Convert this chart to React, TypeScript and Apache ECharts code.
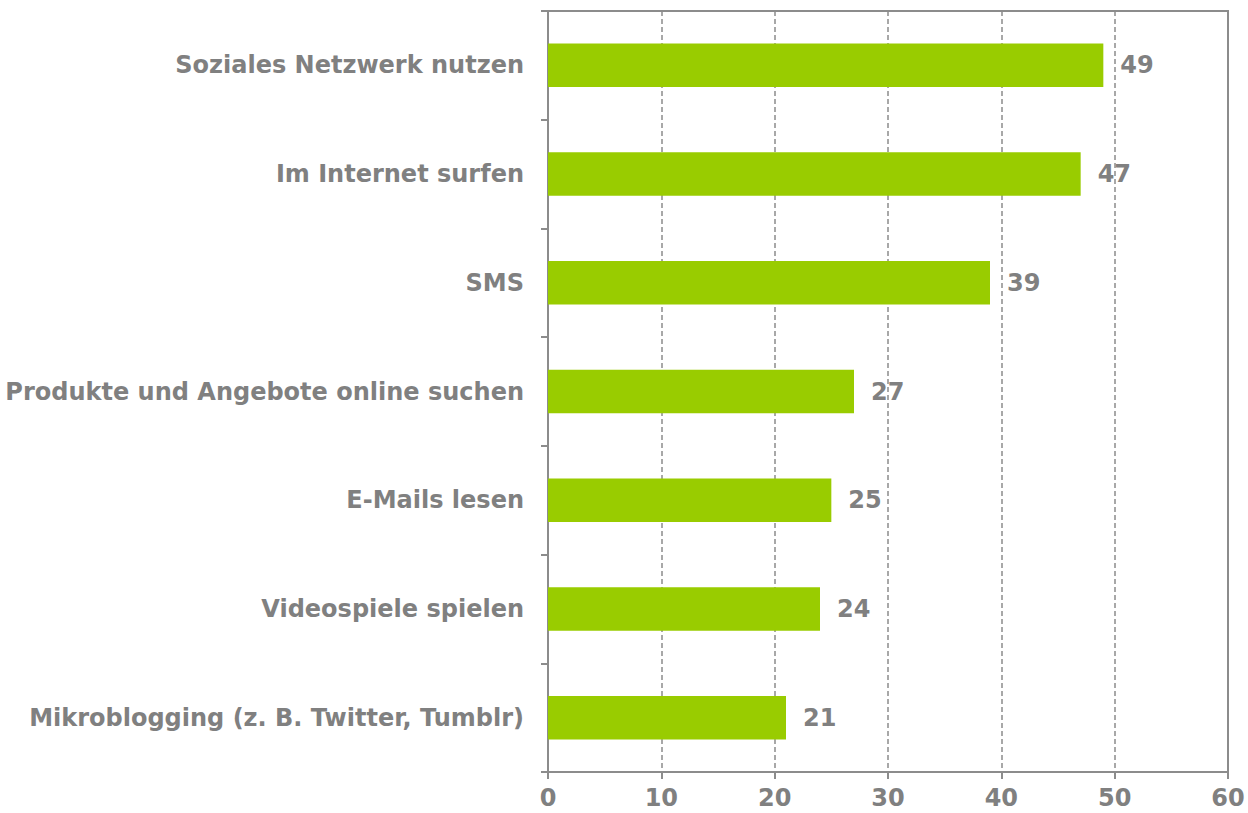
import React, { useEffect, useRef } from "react";
import * as echarts from "echarts";

const categories = [
  "Soziales Netzwerk nutzen",
  "Im Internet surfen",
  "SMS",
  "Produkte und Angebote online suchen",
  "E-Mails lesen",
  "Videospiele spielen",
  "Mikroblogging (z. B. Twitter, Tumblr)",
];
const values = [49, 47, 39, 27, 25, 24, 21];
const xTicks = [0, 10, 20, 30, 40, 50, 60];

const GRAY = "#808080";
const FONT = "DejaVu Sans";

export default function App() {
  const ref = useRef<HTMLDivElement>(null);
  useEffect(() => {
    if (!ref.current) return;
    const chart = echarts.init(ref.current, undefined, { renderer: "svg" });
    chart.setOption({
      animation: false,
      grid: {
        left: 548,
        right: 20,
        top: 11,
        bottom: 41,
        show: true,
        borderColor: "#8c8c8c",
        borderWidth: 2,
      },
      xAxis: {
        type: "value",
        min: xTicks[0],
        max: xTicks[xTicks.length - 1],
        interval: 10,
        axisLine: { show: true, lineStyle: { color: "#8c8c8c", width: 2 } },
        axisTick: { show: true, length: 7, lineStyle: { color: "#8c8c8c", width: 2 } },
        splitLine: { show: true, lineStyle: { color: "#8c8c8c", width: 1.5, type: [5, 3] } },
        axisLabel: {
          margin: 13,
          color: GRAY,
          fontFamily: FONT,
          fontWeight: "bold",
          fontSize: 24,
          lineHeight: 26,
        },
      },
      yAxis: {
        type: "category",
        data: categories,
        inverse: true,
        axisLine: { show: true, lineStyle: { color: "#8c8c8c", width: 2 } },
        axisTick: { show: true, length: 7, lineStyle: { color: "#8c8c8c", width: 2 } },
        axisLabel: {
          margin: 24,
          color: GRAY,
          fontFamily: FONT,
          fontWeight: "bold",
          fontSize: 24,
        },
      },
      series: [
        {
          type: "bar",
          data: values,
          barWidth: "40%",
          itemStyle: { color: "#99cc00" },
          label: {
            show: true,
            position: "right",
            distance: 17,
            color: GRAY,
            fontFamily: FONT,
            fontWeight: "bold",
            fontSize: 24,
          },
        },
      ],
    });
    return () => chart.dispose();
  }, []);
  return <div ref={ref} style={{ width: 1248, height: 813, position: "absolute", left: 0, top: 0 }} />;
}
